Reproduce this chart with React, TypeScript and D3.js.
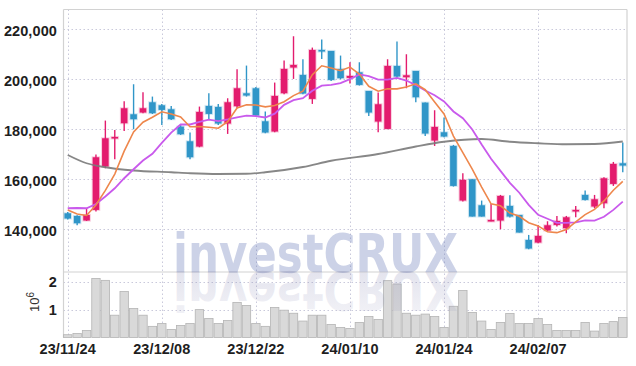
import React, { useRef, useEffect } from "react";
import * as d3 from "d3";

// trading days shown on the chart
const dates = [
  "23/11/24", "23/11/27", "23/11/28", "23/11/29", "23/11/30", "23/12/01", "23/12/04", "23/12/05", "23/12/06", "23/12/07",
  "23/12/08", "23/12/11", "23/12/12", "23/12/13", "23/12/14", "23/12/15", "23/12/18", "23/12/19", "23/12/20", "23/12/21",
  "23/12/22", "23/12/26", "23/12/27", "23/12/28", "24/01/02", "24/01/03", "24/01/04", "24/01/05", "24/01/08", "24/01/09",
  "24/01/10", "24/01/11", "24/01/12", "24/01/15", "24/01/16", "24/01/17", "24/01/18", "24/01/19", "24/01/22", "24/01/23",
  "24/01/24", "24/01/25", "24/01/26", "24/01/29", "24/01/30", "24/01/31", "24/02/01", "24/02/02", "24/02/05", "24/02/06",
  "24/02/07", "24/02/08", "24/02/13", "24/02/14", "24/02/15", "24/02/16", "24/02/19", "24/02/20", "24/02/21", "24/02/22",
];

const opens = [
  146400, 145330, 143470, 147730, 165070, 176270, 182400, 186000, 186670, 190800,
  189600, 188000, 181070, 175200, 173070, 189330, 188930, 182270, 189200, 194400,
  196400, 183200, 179070, 194400, 204670, 201730, 192130, 211730, 211330, 204130,
  200530, 202800, 195330, 183070, 180130, 205330, 200800, 203330, 190670, 175470,
  178800, 173330, 151470, 160000, 149600, 143200, 143470, 149330, 145730, 135730,
  134670, 139470, 141730, 140400, 147330, 153730, 149070, 150400, 158130, 166400,
];
const highs = [
  146900, 145600, 148400, 169870, 183470, 179730, 191200, 198000, 194800, 193070,
  190130, 189330, 181730, 178670, 189070, 194400, 190130, 192400, 204000, 205470,
  196930, 187070, 198670, 207470, 217200, 208000, 212670, 215870, 211330, 209470,
  206800, 206800, 195330, 194670, 208000, 215070, 210000, 203330, 190670, 187600,
  184670, 173730, 162400, 160000, 151470, 150130, 153730, 153600, 145730, 137730,
  141730, 143200, 145330, 145330, 149330, 155470, 153730, 160800, 166930, 174670,
];
const lows = [
  143900, 141600, 143300, 147070, 164400, 168000, 179330, 180000, 186400, 186100,
  181730, 183730, 177730, 168000, 172800, 183730, 181730, 178130, 188400, 193070,
  185070, 178400, 178800, 194000, 200130, 194000, 190130, 208130, 199330, 200000,
  198270, 197470, 185330, 178800, 180130, 200670, 196400, 190800, 177330, 173330,
  176800, 157070, 151070, 145070, 145070, 143200, 140000, 144670, 138670, 132000,
  134400, 139200, 141070, 138400, 144800, 151470, 148400, 148400, 157330, 162800,
];
const closes = [
  144270, 142400, 145730, 168800, 176400, 176930, 188400, 184000, 188400, 186400,
  187730, 184000, 178000, 168800, 186930, 186130, 182270, 190800, 196400, 193470,
  185470, 178670, 193330, 204130, 205730, 194270, 211730, 211070, 199730, 200400,
  201330, 197730, 186670, 190000, 205330, 201070, 201600, 192800, 178270, 180930,
  177070, 157330, 159730, 145070, 145070, 143730, 153330, 145070, 138670, 132270,
  137330, 141600, 143330, 144800, 147730, 151730, 152000, 160400, 166130, 165470,
];
// volume, millions of shares
const volumes = [
  0.10, 0.14, 0.25, 2.12, 2.05, 0.80, 1.65, 1.04, 0.80, 0.40,
  0.50, 0.29, 0.43, 0.50, 1.00, 0.68, 0.50, 0.61, 1.26, 1.15,
  0.50, 0.40, 1.08, 0.98, 0.87, 0.59, 0.80, 0.80, 0.47, 0.36,
  0.32, 0.54, 0.75, 0.65, 2.04, 1.92, 0.87, 0.80, 0.84, 0.75,
  0.36, 1.12, 1.69, 0.90, 0.59, 0.29, 0.54, 0.86, 0.50, 0.50,
  0.68, 0.47, 0.25, 0.25, 0.25, 0.54, 0.23, 0.50, 0.57, 0.72,
];

// moving-average values read before a full window of visible closes exists
const ma5Head = [147700, 146100, 145500, 149700];
const ma10Head = [148400, 148500, 148400, 150100, 153100, 156400, 160400, 164000, 167500];
// long moving average (grey), read at these candle positions
const longMaIdx = [0, 2, 4, 7, 11, 13, 16, 19, 21, 25, 28, 33, 37, 40, 44, 47, 50, 53, 56, 59];
const longMaVal = [
  169700, 166400, 164800, 163500, 162800, 162400, 162100, 162200, 162800, 164900,
  167400, 170100, 173100, 175000, 176100, 175000, 174400, 174000, 174100, 175100,
];

const priceTicks = [140000, 160000, 180000, 200000, 220000];
const volumeTicks = [1, 2];
const dateTicks = ["23/11/24", "23/12/08", "23/12/22", "24/01/10", "24/01/24", "24/02/07"];

const UP = "#e31c6e";
const DOWN = "#3096c8";
const NARROW = "'Liberation Sans Narrow', 'Arial Narrow', sans-serif";

const App: React.FC = () => {
  const svgRef = useRef<SVGSVGElement>(null);

  useEffect(() => {
    const width = 636;
    const height = 366;
    const left = 63.5;
    const right = 627;
    const top = 9.5;
    const split = 272;
    const bottom = 337.5;

    const svg = d3.select(svgRef.current);
    svg.selectAll("*").remove();
    svg.attr("width", width).attr("height", height);

    const x = d3.scalePoint<string>().domain(dates).range([left, right]).padding(0.45);
    const y = d3.scaleLinear().domain([122900, 227900]).range([split, top]);
    const yv = d3.scaleLinear().domain([0, 2.35]).range([bottom, split]);

    const rolling = (n: number, head: number[]) =>
      closes.map((_, i) => (i < n - 1 ? head[i] : (d3.mean(closes.slice(i - n + 1, i + 1)) as number)));
    const ma5 = rolling(5, ma5Head);
    const ma10 = rolling(10, ma10Head);

    const defs = svg.append("defs");
    const grad = defs
      .append("linearGradient")
      .attr("id", "refl")
      .attr("x1", 0)
      .attr("y1", 0)
      .attr("x2", 0)
      .attr("y2", 1);
    grad.append("stop").attr("offset", "0%").attr("stop-color", "#8f90b8").attr("stop-opacity", 0.1);
    grad.append("stop").attr("offset", "100%").attr("stop-color", "#8f90b8").attr("stop-opacity", 0.28);

    // grid
    const grid = svg.append("g").attr("stroke", "#c9c9db").attr("stroke-width", 1).attr("stroke-dasharray", "1.5,2.5");
    priceTicks.forEach((t) => {
      grid.append("line").attr("x1", left).attr("x2", right).attr("y1", Math.round(y(t)) + 0.5).attr("y2", Math.round(y(t)) + 0.5);
    });
    volumeTicks.forEach((t) => {
      grid.append("line").attr("x1", left).attr("x2", right).attr("y1", Math.round(yv(t)) + 0.5).attr("y2", Math.round(yv(t)) + 0.5);
    });
    dateTicks.forEach((d) => {
      const xx = Math.round(x(d)!) + 0.5;
      grid.append("line").attr("x1", xx).attr("x2", xx).attr("y1", top).attr("y2", bottom);
    });

    // frame
    const frame = svg.append("g").attr("stroke", "#d2d2d2").attr("stroke-width", 1.2).attr("fill", "none");
    frame.append("line").attr("x1", left).attr("x2", right).attr("y1", top).attr("y2", top);
    frame.append("line").attr("x1", left).attr("x2", right).attr("y1", split).attr("y2", split);
    frame.append("line").attr("x1", left).attr("x2", left).attr("y1", top).attr("y2", bottom);
    frame.append("line").attr("x1", right).attr("x2", right).attr("y1", top).attr("y2", bottom);

    // volume bars
    const step = x.step();
    svg
      .append("g")
      .selectAll("rect")
      .data(volumes)
      .enter()
      .append("rect")
      .attr("x", (_, i) => x(dates[i])! - step / 2 + 0.5)
      .attr("y", (d) => yv(d))
      .attr("width", step - 1)
      .attr("height", (d) => bottom - yv(d))
      .attr("fill", "#d9d9d9")
      .attr("stroke", "#b4b4b4")
      .attr("stroke-width", 0.8);

    // watermark + mirrored reflection
    svg
      .append("text")
      .attr("x", 173)
      .attr("y", split)
      .attr("textLength", 285)
      .attr("lengthAdjust", "spacingAndGlyphs")
      .attr("font-family", "'DejaVu Sans', sans-serif")
      .attr("font-weight", "bold")
      .attr("font-size", 54)
      .attr("fill", "#6e7dba")
      .attr("fill-opacity", 0.35)
      .text("investCRUX");
    svg
      .append("text")
      .attr("x", 173)
      .attr("y", split)
      .attr("transform", `translate(0,${split * 2}) scale(1,-1)`)
      .attr("textLength", 285)
      .attr("lengthAdjust", "spacingAndGlyphs")
      .attr("font-family", "'DejaVu Sans', sans-serif")
      .attr("font-weight", "bold")
      .attr("font-size", 54)
      .attr("fill", "url(#refl)")
      .text("investCRUX");

    // candles
    const candles = svg.append("g");
    dates.forEach((d, i) => {
      const cx = x(d)!;
      const up = closes[i] >= opens[i];
      const color = up ? UP : DOWN;
      candles
        .append("line")
        .attr("x1", cx)
        .attr("x2", cx)
        .attr("y1", y(highs[i]))
        .attr("y2", y(lows[i]))
        .attr("stroke", color)
        .attr("stroke-width", 1.4);
      const y0 = y(Math.max(opens[i], closes[i]));
      const y1 = y(Math.min(opens[i], closes[i]));
      candles
        .append("rect")
        .attr("x", cx - 3.3)
        .attr("y", y0)
        .attr("width", 6.6)
        .attr("height", Math.max(y1 - y0, 1.6))
        .attr("fill", color)
        .attr("stroke", color)
        .attr("stroke-opacity", 0.22)
        .attr("stroke-width", 2);
    });

    // moving averages
    const idxLine = d3
      .line<number>()
      .x((_, i) => x(dates[i])!)
      .y((v) => y(v));
    svg
      .append("path")
      .datum(longMaVal)
      .attr(
        "d",
        d3
          .line<number>()
          .x((_, k) => x(dates[longMaIdx[k]])!)
          .y((v) => y(v))
          .curve(d3.curveMonotoneX)
      )
      .attr("fill", "none")
      .attr("stroke", "#7a7a7a")
      .attr("stroke-opacity", 0.9)
      .attr("stroke-width", 1.8);
    svg
      .append("path")
      .datum(ma10)
      .attr("d", idxLine)
      .attr("fill", "none")
      .attr("stroke", "#c95aec")
      .attr("stroke-width", 1.8);
    svg
      .append("path")
      .datum(ma5)
      .attr("d", idxLine)
      .attr("fill", "none")
      .attr("stroke", "#ee874c")
      .attr("stroke-width", 1.6);

    // axis labels
    const labels = svg
      .append("g")
      .attr("font-family", NARROW)
      .attr("font-weight", "bold")
      .attr("font-size", 14.5)
      .attr("fill", "#1e1e1e")
      .attr("letter-spacing", 0.1);
    priceTicks.forEach((t) => {
      labels
        .append("text")
        .attr("x", 57)
        .attr("y", y(t) + 6.5)
        .attr("text-anchor", "end")
        .text(d3.format(",")(t));
    });
    volumeTicks.forEach((t) => {
      labels
        .append("text")
        .attr("x", 57)
        .attr("y", yv(t) + 5)
        .attr("text-anchor", "end")
        .text(String(t));
    });
    dateTicks.forEach((d) => {
      labels
        .append("text")
        .attr("x", x(d)!)
        .attr("y", 354)
        .attr("text-anchor", "middle")
        .text(d);
    });

    const unit = svg
      .append("text")
      .attr("transform", "translate(39,302) rotate(-90)")
      .attr("text-anchor", "middle")
      .attr("font-family", "'Liberation Sans', Arial, sans-serif")
      .attr("font-size", 13)
      .attr("fill", "#333");
    unit.append("tspan").text("10");
    unit.append("tspan").attr("dy", -5).attr("font-size", 10).text("6");
  }, []);

  return (
    <div style={{ position: "absolute", left: 0, top: 0 }}>
      <svg ref={svgRef} width={636} height={366} />
    </div>
  );
};

export default App;
